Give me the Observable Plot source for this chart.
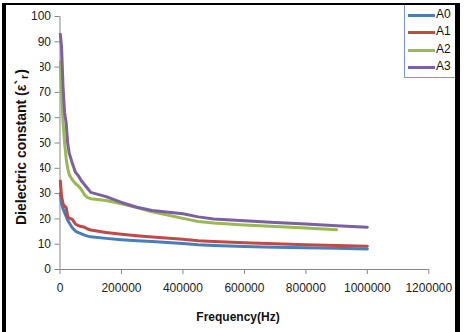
<!DOCTYPE html>
<html><head><meta charset="utf-8">
<script src="https://cdn.jsdelivr.net/npm/d3@7"></script>
<script src="https://cdn.jsdelivr.net/npm/@observablehq/plot@0.6"></script>
<style>
body{margin:0;background:#fff;}
#wrap{position:relative;width:467px;height:332px;overflow:hidden;font-family:"Liberation Sans",Arial,sans-serif;background:#fff;}
#chart svg{display:block;}
g[aria-label="x-axis tick"], g[aria-label="y-axis tick"]{stroke:#868686;}
.bar{position:absolute;background:#000;}
#ytitle{position:absolute;left:-66px;top:131px;width:180px;height:32px;line-height:26px;transform:rotate(-90deg);background:#fff;text-align:center;font-weight:bold;font-size:14px;color:#111;white-space:nowrap;}
#ytitle .sub{font-size:11px;position:relative;top:2px;margin:0 1px;}
#xtitle{position:absolute;left:178px;top:310px;width:120px;text-align:center;font-weight:bold;font-size:12px;color:#111;}
#legend{position:absolute;left:404px;top:3px;width:50px;height:73px;border:1px solid #7a99cc;background:#fff;}
.li{position:absolute;left:3px;height:14px;font-size:12px;color:#111;}
.li span.sw{position:absolute;left:0;top:6px;width:27px;height:3px;}
.li span.tx{position:absolute;left:28px;top:-1px;}
</style></head>
<body>
<div id="wrap">
  <div id="chart"></div>
  <div id="ytitle">Dielectric constant (ε`<span class="sub">r</span>)</div>
  <div id="xtitle">Frequency(Hz)</div>
  <div id="legend"></div>
  <div class="bar" style="left:2px;top:3px;width:4px;height:329px"></div>
  <div class="bar" style="left:2px;top:3px;width:458px;height:2px"></div>
  <div class="bar" style="left:455px;top:3px;width:5px;height:329px"></div>
</div>
<script>
const seriesNames = ["A0", "A1", "A2", "A3"];
const seriesColors = ["#4a7ebb", "#be4b48", "#98b954", "#7d60a0"];
const freq = [1000, 5000, 10000, 15000, 20000, 25000, 30000, 40000, 50000, 60000, 70000, 80000, 90000, 100000, 150000, 200000, 250000, 300000, 400000, 450000, 500000, 600000, 700000, 800000, 900000, 1000000];
const A0 = [30, 26, 24, 22.5, 21, 19.5, 18.5, 16.5, 15.2, 14.6, 14.1, 13.6, 13.2, 12.9, 12.3, 11.8, 11.4, 11.1, 10.3, 9.8, 9.5, 9.1, 8.8, 8.6, 8.4, 8.1];
const A1 = [35, 29, 26, 25, 24.5, 21, 20.3, 19.8, 18, 17.3, 17, 16.7, 16, 15.6, 14.6, 13.9, 13.3, 12.8, 12, 11.4, 11.1, 10.6, 10.2, 9.8, 9.5, 9.2];
const A2 = [82, 70, 58, 50, 44, 40, 37.5, 35.5, 34, 33, 31.5, 29.5, 28.4, 28, 27.3, 26, 24.5, 22.8, 20.2, 19.0, 18.4, 17.6, 17.0, 16.4, 15.7];
const A3 = [93, 88, 72, 62, 58, 50, 46, 42, 38.5, 37, 35, 33.5, 32, 30.5, 28.8, 26.5, 24.6, 23.3, 22, 20.8, 20.0, 19.3, 18.6, 18.0, 17.3, 16.7];
const xTicks = [0, 200000, 400000, 600000, 800000, 1000000, 1200000];
const yTicks = [0, 10, 20, 30, 40, 50, 60, 70, 80, 90, 100];

const values = [A0, A1, A2, A3];
const data = [];
seriesNames.forEach((s, i) => values[i].forEach((v, j) => data.push({series: s, f: freq[j], v})));

const plot = Plot.plot({
  width: 467, height: 332,
  marginLeft: 59.5, marginRight: 38.7, marginTop: 16, marginBottom: 63,
  style: {fontFamily: '"Liberation Sans", Arial, sans-serif', fontSize: "12px", color: "#222", background: "transparent"},
  x: {domain: [0, 1200000]},
  y: {domain: [0, 100]},
  color: {domain: seriesNames, range: seriesColors},
  marks: [
    Plot.axisX({ticks: xTicks, tickFormat: d => String(d), tickSize: 5, tickPadding: 9, label: null}),
    Plot.axisY({ticks: yTicks, tickFormat: d => String(d), tickSize: 5, tickPadding: 4, label: null}),
    Plot.ruleY([0], {stroke: "#868686"}),
    Plot.ruleX([0], {stroke: "#868686"}),
    Plot.line(data, {x: "f", y: "v", z: "series", stroke: "series", strokeWidth: 3})
  ]
});
document.getElementById("chart").appendChild(plot);

const lg = document.getElementById("legend");
seriesNames.forEach((s, i) => {
  const d = document.createElement("div");
  d.className = "li";
  d.style.top = (4 + i * 17.3) + "px";
  d.innerHTML = `<span class="sw" style="background:${seriesColors[i]}"></span><span class="tx">${s}</span>`;
  lg.appendChild(d);
});
</script>
</body></html>
